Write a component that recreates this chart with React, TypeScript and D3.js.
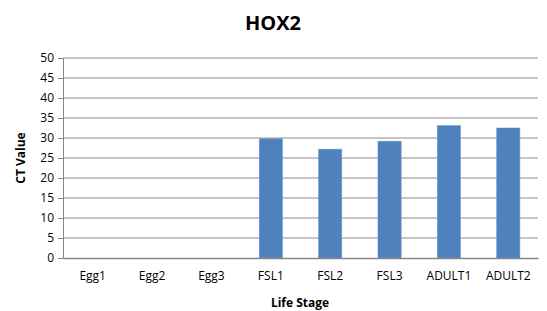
import React, { useRef, useEffect } from "react";
import * as d3 from "d3";

const stages = ["Egg1", "Egg2", "Egg3", "FSL1", "FSL2", "FSL3", "ADULT1", "ADULT2"];
const ctValues = [0, 0, 0, 29.8, 27.2, 29.2, 33.1, 32.5];
const yTicks = [0, 5, 10, 15, 20, 25, 30, 35, 40, 45, 50];

const W = 547;
const H = 311;
const font = "'Open Sans', sans-serif";

export default function App() {
  const svgRef = useRef<SVGSVGElement>(null);

  useEffect(() => {
    const svg = d3.select(svgRef.current);
    svg.selectAll("*").remove();

    const left = 63, right = 538, top = 58, bottom = 258;

    const x = d3.scaleBand().domain(stages).range([left, right]).paddingInner(0.61).paddingOuter(0.305);
    const y = d3.scaleLinear().domain([0, 50]).range([bottom, top]);

    // gridlines
    svg
      .append("g")
      .selectAll("line")
      .data(yTicks.filter((t) => t > 0))
      .join("line")
      .attr("x1", left)
      .attr("x2", right)
      .attr("y1", (d) => y(d))
      .attr("y2", (d) => y(d))
      .attr("stroke", "#8c8c8c")
      .attr("stroke-width", 1);

    // bars
    svg
      .append("g")
      .selectAll("rect")
      .data(stages.map((s, i) => ({ s, v: ctValues[i] })))
      .join("rect")
      .attr("x", (d) => x(d.s)!)
      .attr("width", x.bandwidth())
      .attr("y", (d) => y(d.v))
      .attr("height", (d) => bottom - y(d.v))
      .attr("fill", "#4f81bd")
      .attr("stroke", "#6a95c9")
      .attr("stroke-width", 0.6);

    // y axis
    const yAxis = svg
      .append("g")
      .attr("transform", `translate(${left},0)`)
      .call(d3.axisLeft(y).tickValues(yTicks).tickSize(5).tickPadding(4));
    yAxis.select(".domain").attr("stroke", "#868686");
    yAxis.selectAll(".tick line").attr("stroke", "#868686");
    yAxis
      .selectAll("text")
      .attr("font-family", font)
      .attr("font-size", 12)
      .attr("fill", "#000");

    // x axis
    const xAxis = svg
      .append("g")
      .attr("transform", `translate(0,${bottom})`)
      .call(d3.axisBottom(x).tickSize(0).tickPadding(13));
    xAxis.select(".domain").attr("stroke", "#868686").attr("stroke-width", 1.5);
    xAxis
      .selectAll("text")
      .attr("font-family", font)
      .attr("font-size", 12)
      .attr("fill", "#000");

    // title
    svg
      .append("text")
      .attr("x", 273)
      .attr("y", 30)
      .attr("text-anchor", "middle")
      .attr("font-family", font)
      .attr("font-weight", "bold")
      .attr("font-size", 20)
      .text("HOX2");

    // axis titles
    svg
      .append("text")
      .attr("x", 300)
      .attr("y", 307)
      .attr("text-anchor", "middle")
      .attr("font-family", font)
      .attr("font-weight", "bold")
      .attr("font-size", 12)
      .text("Life Stage");

    svg
      .append("text")
      .attr("transform", `translate(25,158) rotate(-90)`)
      .attr("text-anchor", "middle")
      .attr("font-family", font)
      .attr("font-weight", "bold")
      .attr("font-size", 12)
      .text("CT Value");
  }, []);

  return (
    <svg
      ref={svgRef}
      width={W}
      height={H}
      style={{ position: "absolute", left: 0, top: 0, background: "#fff" }}
    ></svg>
  );
}
